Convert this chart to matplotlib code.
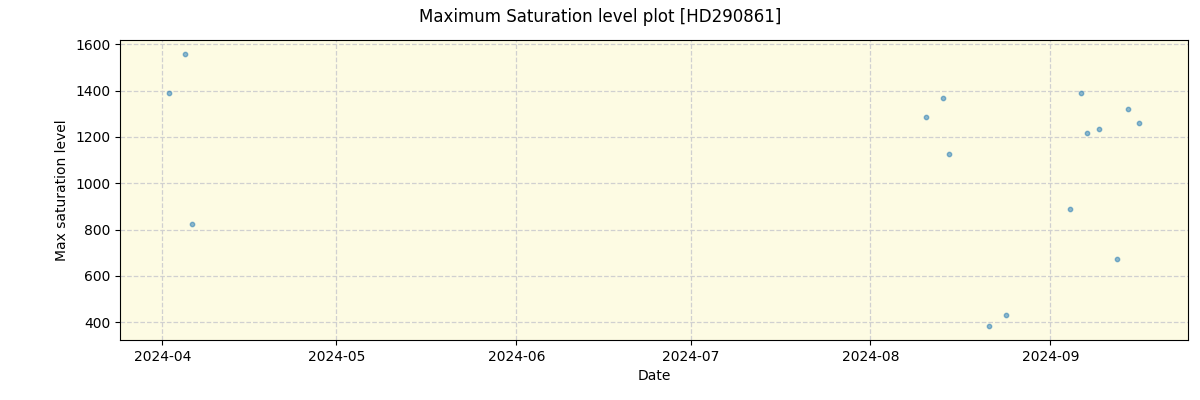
import matplotlib
matplotlib.use("Agg")
import matplotlib.pyplot as plt
import matplotlib.dates as mdates
import pandas as pd

# dates (fractional days kept as hours)
dates = ["2024-04-02 02:00", "2024-04-05 00:00", "2024-04-06 01:00",
         "2024-08-10 12:00", "2024-08-13 10:00", "2024-08-14 11:00",
         "2024-08-21 12:00", "2024-08-24 10:00",
         "2024-09-04 08:00", "2024-09-06 08:00", "2024-09-07 09:00",
         "2024-09-09 10:00", "2024-09-12 10:00", "2024-09-14 08:00",
         "2024-09-16 08:00"]
max_sat = [1390, 1560, 824,
           1288, 1370, 1127,
           382, 430,
           889, 1388, 1219,
           1236, 673, 1322,
           1261]

x = pd.to_datetime(dates)

fig = plt.figure(figsize=(12, 4), dpi=100)
ax = fig.add_axes([0.1, 0.15, 0.89, 0.75])
ax.set_facecolor("#fdfbe3")
ax.scatter(x, max_sat, s=10, color="tab:blue", alpha=0.5, zorder=3)
ax.grid(True, linestyle="--", color="#d0d0d0", linewidth=0.9)
ax.xaxis.set_major_locator(mdates.MonthLocator())
ax.xaxis.set_major_formatter(mdates.DateFormatter("%Y-%m"))
ax.set_xlabel("Date")
ax.set_ylabel("Max saturation level")
fig.suptitle("Maximum Saturation level plot [HD290861]", y=0.98)

fig.savefig("out.png")
